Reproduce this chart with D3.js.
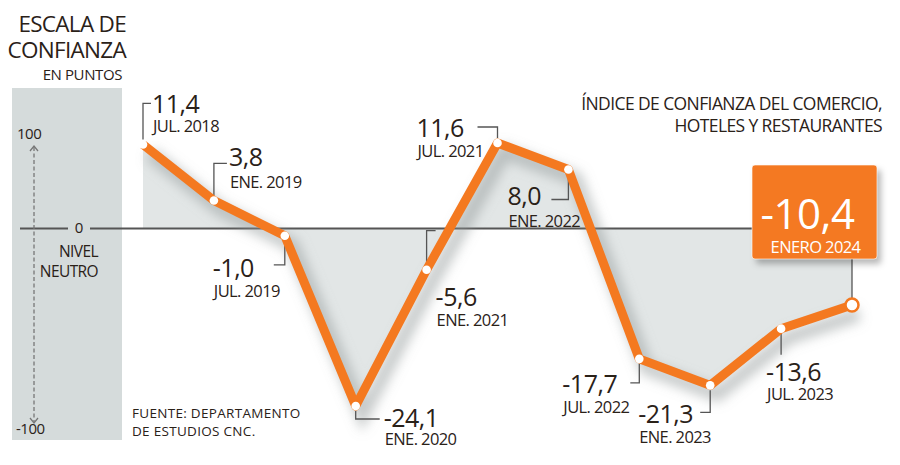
<!DOCTYPE html>
<html><head><meta charset="utf-8">
<script src="https://cdn.jsdelivr.net/npm/d3@7"></script>
<style>body{margin:0;background:#fff} svg{display:block;font-family:"Open Sans",sans-serif}</style>
</head><body><svg id="c" width="900" height="465"></svg>
<script>
const categories = ["JUL. 2018","ENE. 2019","JUL. 2019","ENE. 2020","ENE. 2021","JUL. 2021","ENE. 2022","JUL. 2022","ENE. 2023","JUL. 2023","ENERO 2024"];
const values = [11.4, 3.8, -1.0, -24.1, -5.6, 11.6, 8.0, -17.7, -21.3, -13.6, -10.4];
const scaleTicks = ["100", "0", "-100"];
const titleLines = ["ESCALA DE", "CONFIANZA"];
const unitLabel = "EN PUNTOS";
const neutralLines = ["NIVEL", "NEUTRO"];
const chartTitle = ["ÍNDICE DE CONFIANZA DEL COMERCIO,", "HOTELES Y RESTAURANTES"];
const sourceLines = ["FUENTE: DEPARTAMENTO", "DE ESTUDIOS CNC."];

// label placement (layout only): leader path offsets, text offset, baselines
const placement = [
  {lead:[[0,-5],[0,-41],[8,-41]], dx:9,  vy:-31, dy:-12},
  {lead:[[0,-5],[0,-37],[13,-37]], dx:15, vy:-34, dy:-12},
  {lead:[[0,5],[0,29],[-11,29]], dx:-72, vy:41, dy:61},
  {lead:[[0,5],[0,13],[24,13]], dx:28, vy:21, dy:39},
  {lead:[[0,-5],[0,-39],[9,-39]], dx:9, vy:36, dy:56},
  {lead:[[0,-5],[0,-16],[-20,-16]], dx:-81, vy:-6, dy:14},
  {lead:[[0,5],[0,30],[-17,30]], dx:-61, vy:35, dy:57},
  {lead:[[0,5],[0,24],[-9,24]], dx:-77, vy:34, dy:54},
  {lead:[[0,5],[0,27],[-10,27]], dx:-72, vy:38, dy:58},
  {lead:[[0,5],[0,26]], dx:-15, vy:52, dy:71},
  null
];

const ORANGE = "#f47920", INK = "#2a2118", LEAD = "#555";
const svg = d3.select("#c");
const defs = svg.append("defs");
const f1 = defs.append("filter").attr("id","sh").attr("x","-20%").attr("y","-20%").attr("width","140%").attr("height","140%");
f1.append("feGaussianBlur").attr("stdDeviation",6);
const f2 = defs.append("filter").attr("id","boxsh").attr("x","-20%").attr("y","-20%").attr("width","150%").attr("height","150%");
f2.append("feDropShadow").attr("dx",4).attr("dy",5).attr("stdDeviation",3).attr("flood-color","#000").attr("flood-opacity",0.28);

const x = d3.scalePoint().domain(categories).range([143, 852]);
const y = d3.scaleLinear().domain([-24.1, 11.6]).range([406, 143]);
const loc = d3.formatLocale({decimal:",", thousands:".", grouping:[3], currency:["",""], minus:"-"});
const fmt = loc.format(".1f");
const data = categories.map((c,i)=>({c, v:values[i], i}));

// left grey band
svg.append("rect").attr("x",12).attr("y",88).attr("width",110).attr("height",352).attr("fill","#d5dbdb");

// titles
svg.append("text").attr("text-anchor","end").attr("fill",INK).style("font-size","22.5px").style("letter-spacing","-0.7px")
  .selectAll("tspan").data(titleLines).join("tspan").attr("x",126).attr("y",(d,i)=>32+i*26).text(d=>d);
svg.append("text").attr("x",122).attr("y",80).attr("text-anchor","end").attr("fill",INK).style("font-size","15px").style("letter-spacing","-0.4px").text(unitLabel);

// area
const area = d3.area().x(d=>x(d.c)).y0(y(0)).y1(d=>y(d.v));
svg.append("path").datum(data).attr("d",area).attr("fill","#e2e6e6");

// zero line
svg.append("line").attr("x1",20).attr("x2",68).attr("y1",y(0)).attr("y2",y(0)).attr("stroke",LEAD).attr("stroke-width",2);
svg.append("line").attr("x1",90).attr("x2",752).attr("y1",y(0)).attr("y2",y(0)).attr("stroke",LEAD).attr("stroke-width",2);

// schematic scale
svg.append("line").attr("x1",34).attr("x2",34).attr("y1",147).attr("y2",423).attr("stroke","#777").attr("stroke-width",1.3).attr("stroke-dasharray","4,2.5");
svg.append("path").attr("d","M30,151 L34,146 L38,151").attr("fill","none").attr("stroke","#777").attr("stroke-width",1.3);
svg.append("path").attr("d","M30,418 L34,423 L38,418").attr("fill","none").attr("stroke","#777").attr("stroke-width",1.3);
svg.append("text").attr("x",17).attr("y",139).attr("fill",INK).style("font-size","15px").style("letter-spacing","-0.5px").text(scaleTicks[0]);
svg.append("text").attr("x",79).attr("y",y(0)+5).attr("text-anchor","middle").attr("fill",INK).style("font-size","15px").text(scaleTicks[1]);
svg.append("text").attr("x",16).attr("y",434).attr("fill",INK).style("font-size","15px").style("letter-spacing","-0.5px").text(scaleTicks[2]);
svg.append("text").attr("text-anchor","end").attr("fill",INK).style("font-size","15.5px").style("letter-spacing","-0.6px")
  .selectAll("tspan").data(neutralLines).join("tspan").attr("x",98).attr("y",(d,i)=>257+i*20).text(d=>d);

// source
svg.append("text").attr("fill",INK).style("font-size","13.5px").style("letter-spacing","0.3px")
  .selectAll("tspan").data(sourceLines).join("tspan").attr("x",132).attr("y",(d,i)=>418+i*18).text(d=>d);

// chart title
svg.append("text").attr("text-anchor","end").attr("fill",INK).style("font-size","17.5px").style("letter-spacing","-0.6px")
  .selectAll("tspan").data(chartTitle).join("tspan").attr("x",882).attr("y",(d,i)=>110+i*22).text(d=>d);

// line shadow
const line = d3.line().x(d=>x(d.c)).y(d=>y(d.v));
svg.append("path").datum(data).attr("d",line).attr("fill","none").attr("stroke","#8f9696").attr("stroke-opacity",0.5)
  .attr("stroke-width",14).attr("transform","translate(7,9)").attr("filter","url(#sh)");

// leaders
const last = data[data.length-1];
data.forEach((d,i)=>{
  const p = placement[i]; if(!p) return;
  const px = x(d.c), py = y(d.v);
  svg.append("path").attr("d", d3.line()(p.lead.map(o=>[px+o[0], py+o[1]]))).attr("fill","none").attr("stroke",LEAD).attr("stroke-width",1.3);
});
svg.append("line").attr("x1",x(last.c)).attr("x2",x(last.c)).attr("y1",255).attr("y2",y(last.v)-7).attr("stroke",LEAD).attr("stroke-width",1.3);

// main line
svg.append("path").datum(data).attr("d",line).attr("fill","none").attr("stroke",ORANGE).attr("stroke-width",9).attr("stroke-linejoin","round");

// points
svg.selectAll("circle.pt").data(data.slice(0,-1)).join("circle").attr("class","pt")
  .attr("cx",d=>x(d.c)).attr("cy",d=>y(d.v)).attr("r",4.3).attr("fill","#fff");
svg.append("circle").attr("cx",x(last.c)).attr("cy",y(last.v)).attr("r",6.5).attr("fill","#fff").attr("stroke",ORANGE).attr("stroke-width",2.5);

// labels
data.forEach((d,i)=>{
  const p = placement[i]; if(!p) return;
  const px = x(d.c), py = y(d.v);
  svg.append("text").attr("x",px+p.dx).attr("y",py+p.vy).attr("fill",INK).style("font-size","25px").style("letter-spacing","-0.5px").text(fmt(d.v));
  svg.append("text").attr("x",px+p.dx+1).attr("y",py+p.dy).attr("fill",INK).style("font-size","16.5px").style("letter-spacing","-0.6px").text(d.c);
});

// highlight box
const bx = 752, by = 165, bw = 125, bh = 94;
svg.append("rect").attr("x",bx).attr("y",by).attr("width",bw).attr("height",bh).attr("rx",3).attr("fill",ORANGE).attr("filter","url(#boxsh)");
svg.append("rect").attr("x",bx).attr("y",by).attr("width",bw).attr("height",bh).attr("rx",3).attr("fill","none").attr("stroke","#fff").attr("stroke-opacity",0.6).attr("stroke-width",1);
svg.append("text").attr("x",bx+bw/2-7).attr("y",229).attr("text-anchor","middle").attr("fill","#fff").style("font-size","42px").style("letter-spacing","-0.5px").text(fmt(last.v));
svg.append("text").attr("x",bx+bw/2+1).attr("y",253).attr("text-anchor","middle").attr("fill","#fff").style("font-size","16.5px").style("letter-spacing","-0.6px").text(last.c);
</script></body></html>
